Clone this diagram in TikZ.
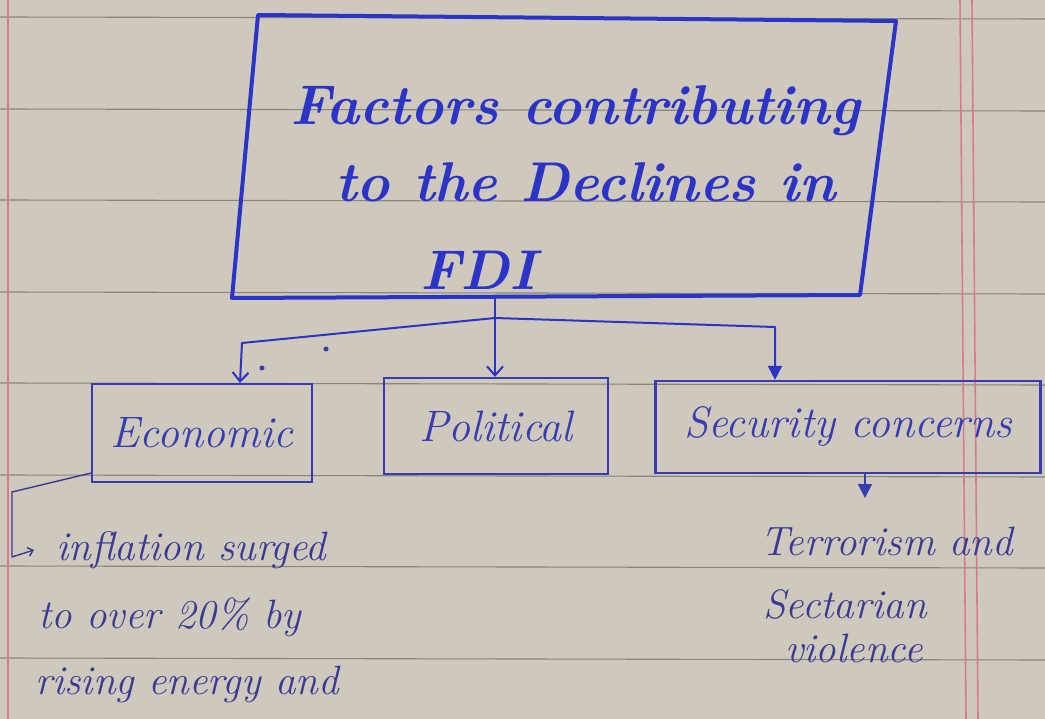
\documentclass[tikz,border=0pt]{standalone}
\usetikzlibrary{arrows.meta}
\definecolor{paper}{RGB}{207,200,188}
\definecolor{ruleline}{RGB}{138,132,122}
\definecolor{margin}{RGB}{218,122,142}
\definecolor{ink}{RGB}{44,52,200}
\definecolor{inkb}{RGB}{54,60,178}
\definecolor{inkc}{RGB}{58,58,150}
\tikzset{
  titletxt/.style={anchor=base west, inner sep=0pt, text=ink, font=\fontsize{56}{60}\selectfont\bfseries\itshape},
  catbox/.style={draw=inkb, line width=2.2pt, inner sep=0pt, text=inkb, font=\fontsize{44}{48}\selectfont\itshape},
  notetxt/.style={anchor=base west, inner sep=0pt, text=inkc, font=\fontsize{41}{44}\selectfont\itshape},
  conn/.style={draw=ink, line width=2pt, line join=round, line cap=round},
  openhead/.style={-{Straight Barb[length=9pt,width=16pt,line width=2pt]}},
  fillhead/.style={-{Triangle[length=14pt,width=14pt]}},
  ruling/.style={draw=ruleline, line width=1.1pt},
  marginline/.style={draw=margin, line width=1.6pt},
  pendot/.style={fill=inkb, draw=none}
}
\begin{document}
\begin{tikzpicture}[x=1pt,y=-1pt]
\useasboundingbox (0,0) rectangle (1045,719);
\fill[paper] (0,0) rectangle (1045,719);
% ruled paper
\foreach \yy in {17,109,200,292,383,475,566,658}
  \draw[ruling] (0,\yy) -- (1045,\yy+2);
\draw[marginline] (8,0) -- (8,719);
\draw[marginline] (960,0) -- (966,719);
\draw[marginline] (972,0) -- (978,719);

% title box (hand drawn, slightly skewed)
\coordinate (tl) at (258,15);
\coordinate (tr) at (896,21);
\coordinate (br) at (860,295);
\coordinate (bl) at (232,298);
\draw[draw=ink, line width=4pt, line join=round] (tl) -- (tr) -- (br) -- (bl) -- cycle;
\node[titletxt] (t1) at (290,125) {Factors contributing};
\node[titletxt] (t2) at (335,202) {to the Declines in};
\node[titletxt] (t3) at (420,290) {FDI};

% category boxes
\node[catbox, minimum width=220pt, minimum height=98pt] (econ) at (202,433) {Economic};
\node[catbox, minimum width=224pt, minimum height=96pt] (pol) at (496,426) {Political};
\node[catbox, minimum width=385pt, minimum height=92pt] (sec) at (848,427) {Security concerns};

% connectors
\coordinate (tb) at (495,296);
\coordinate (j) at (495,318);
\draw[conn] (tb) -- (j);
\draw[conn, openhead] (j) -- (242,343) -- (240,343 |- econ.north);
\draw[conn, openhead] (j) -- (j |- pol.north);
\draw[conn, fillhead] (j) -- (775,327) -- (775,327 |- sec.north);

% pen dots
\fill[pendot] (262,368) circle (2.5pt);
\fill[pendot] (326,349) circle (2.5pt);

% economic note
\coordinate (ea) at ([yshift=10pt]econ.south west);
\draw[draw=inkc, line width=1.4pt, line join=round, -{Straight Barb[length=5pt,width=9pt]}]
  (ea) -- (12,492) -- (12,557) -- (34,550);
\node[notetxt] (n1) at (56,560) {inflation surged};
\node[notetxt] (n2) at (38,628) {to over 20\% by};
\node[notetxt] (n3) at (35,694) {rising energy and};

% security note
\draw[draw=inkb, line width=2pt, fillhead] (865,0 |- sec.south) -- (865,498);
\node[notetxt] (s1) at (760,555) {Terrorism and};
\node[notetxt] (s2) at (763,618) {Sectarian};
\node[notetxt] (s3) at (785,662) {violence};
\end{tikzpicture}
\end{document}
